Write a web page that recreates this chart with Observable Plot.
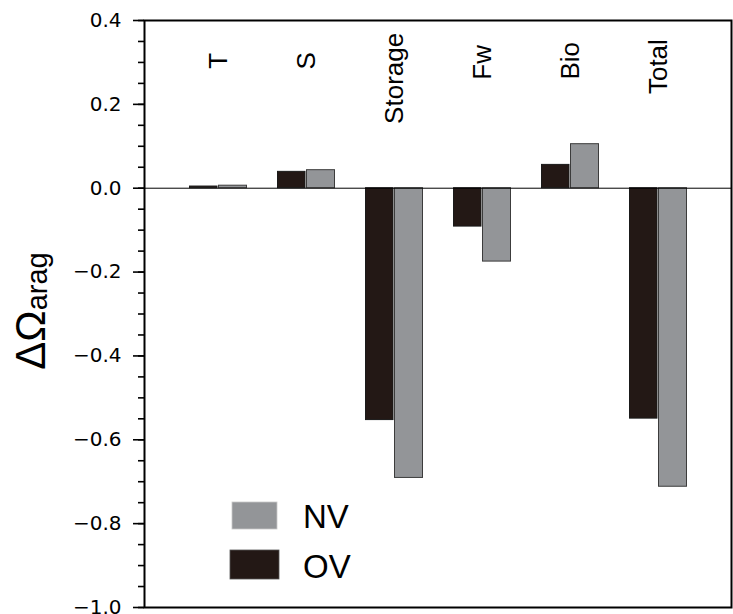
<!DOCTYPE html>
<html><head><meta charset="utf-8">
<script src="https://cdn.jsdelivr.net/npm/d3@7"></script>
<script src="https://cdn.jsdelivr.net/npm/@observablehq/plot@0.6"></script>
<style>body{margin:0;background:#fff}</style>
</head><body><div id="chart"></div>
<script>
const categories = ["T", "S", "Storage", "Fw", "Bio", "Total"];
const ovValues = [0.004, 0.039, -0.553, -0.0915, 0.0556, -0.5495];
const nvValues = [0.006, 0.043, -0.691, -0.175, 0.105, -0.712];
const labelAt = [0.304, 0.304, 0.262, 0.300, 0.304, 0.290];
const yTicks = [-1.0, -0.8, -0.6, -0.4, -0.2, 0.0, 0.2, 0.4];
const seriesNames = ["NV", "OV"];
const seriesColors = ["#939598", "#231815"];

const ovData = categories.map((c, i) => ({cat: c, value: ovValues[i]}));
const nvData = categories.map((c, i) => ({cat: c, value: nvValues[i]}));
const labelData = categories.map((c, i) => ({cat: c, at: labelAt[i]}));
const minorTicks = d3.range(0, 29).map(k => +(-1 + k * 0.05).toFixed(2));
const fmt = d => (d < 0 ? "\u2212" : "") + Math.abs(d).toFixed(1);

const chart = Plot.plot({
  width: 733, height: 614,
  marginTop: 20, marginBottom: 7, marginLeft: 144, marginRight: 2,
  x: {domain: categories, range: [174.3, 702.3], paddingInner: 0.34, paddingOuter: 0.17, axis: null},
  y: {domain: [-1, 0.4]},
  style: {fontFamily: "Liberation Sans, Arial, sans-serif", background: "#fff", color: "#000"},
  marks: [
    Plot.barY(ovData, {x: "cat", y: "value", fill: seriesColors[1], stroke: "#1a1a1a", strokeWidth: 1, insetLeft: 0.5, insetRight: 30}),
    Plot.barY(nvData, {x: "cat", y: "value", fill: seriesColors[0], stroke: "#3c3c3c", strokeWidth: 1, insetLeft: 29.5, insetRight: 0.5}),
    Plot.ruleY([0], {stroke: "#000", strokeWidth: 1}),
    Plot.text(labelData, {x: "cat", y: "at", text: "cat", rotate: -90, fontSize: 26, fill: "#000"}),
    Plot.axisY(minorTicks, {tickSize: 6, tickFormat: () => "", strokeWidth: 1.6}),
    Plot.axisY(yTicks, {tickSize: 11, tickPadding: 12, tickFormat: fmt, fontSize: 20, strokeWidth: 1.6}),
    Plot.frame({stroke: "#000", strokeWidth: 2})
  ]
});
document.getElementById("chart").appendChild(chart);

const svg = d3.select(chart);
// tick label font (wide sans like the reference)
const tickLabelTexts = new Set(yTicks.map(fmt));
svg.selectAll("text")
  .filter(function() { return tickLabelTexts.has(this.textContent); })
  .attr("font-family", "DejaVu Sans, sans-serif")
  .style("font-family", "DejaVu Sans, sans-serif")
  .style("font-size", "20px");

// y-axis title
const yl = svg.append("text")
  .attr("transform", "translate(45,311) rotate(-90)")
  .attr("text-anchor", "middle")
  .attr("font-family", "Liberation Sans, Arial, sans-serif")
  .attr("fill", "#000");
yl.append("tspan").attr("font-size", 42).text("\u0394\u03A9");
yl.append("tspan").attr("font-size", 29).attr("dy", 2).text("arag");

// legend
const legendBoxes = [
  {x: 232, y: 502, w: 45, h: 27, tx: 303, ty: 528},
  {x: 230, y: 550, w: 49, h: 29, tx: 303, ty: 578}
];
seriesNames.forEach((name, i) => {
  const b = legendBoxes[i];
  svg.append("rect").attr("x", b.x).attr("y", b.y).attr("width", b.w).attr("height", b.h)
    .attr("fill", seriesColors[i]).attr("stroke", i === 0 ? "#c8c8c8" : "#555").attr("stroke-width", 0.8);
  svg.append("text").attr("x", b.tx).attr("y", b.ty).attr("font-size", 33)
    .attr("text-anchor", "start")
    .attr("font-family", "Liberation Sans, Arial, sans-serif").attr("fill", "#000").text(name);
});
</script>
</body></html>
